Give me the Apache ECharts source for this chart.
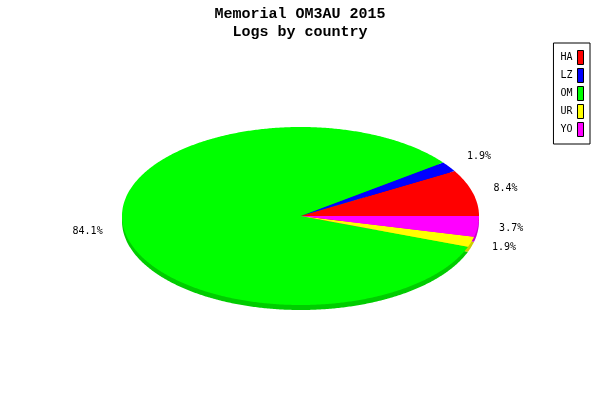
<!DOCTYPE html>
<html>
<head>
<meta charset="utf-8">
<script src="https://cdn.jsdelivr.net/npm/echarts@6/dist/echarts.min.js"></script>
<style>html,body{margin:0;padding:0;background:#fff}#c{width:600px;height:400px}</style>
</head>
<body>
<div id="c"></div>
<script>
const titleLines = ['Memorial OM3AU 2015', 'Logs by country'];
const categories = ['HA', 'LZ', 'OM', 'UR', 'YO'];
const logCounts = [9, 2, 90, 2, 4];
const topColors = ['#ff0000', '#0000ff', '#00ff00', '#ffff00', '#ff00ff'];
const sideColors = ['#cc0000', '#0000cc', '#00cc00', '#cccc00', '#cc00cc'];

const total = logCounts.reduce((a, b) => a + b, 0);
const startFrac = logCounts.map((v, i) => logCounts.slice(0, i).reduce((a, b) => a + b, 0) / total);

const CX = 300.5, CY = 216, RX = 178.5, RY = 89, DEPTH = 5;
const LRX = 200, LRY = 107;

function slicePoints(a0, a1, dy) {
  const pts = [[CX, CY + dy]];
  const n = Math.max(2, Math.ceil((a1 - a0) / 0.5));
  for (let k = 0; k <= n; k++) {
    const a = (a0 + (a1 - a0) * k / n) * Math.PI / 180;
    pts.push([CX + RX * Math.cos(a), CY + dy - RY * Math.sin(a)]);
  }
  return pts;
}

const chart = echarts.init(document.getElementById('c'), null, {renderer: 'canvas'});

const series = categories.map((name, i) => ({
  name: name,
  type: 'custom',
  coordinateSystem: 'none',
  itemStyle: {color: topColors[i]},
  data: [[logCounts[i]]],
  renderItem: function (params, api) {
    const v = api.value(0);
    const a0 = startFrac[i] * 360;
    const a1 = a0 + v / total * 360;
    const mid = (a0 + a1) / 2 * Math.PI / 180;
    const pct = (v / total * 100).toFixed(1) + '%';
    const c = Math.cos(mid);
    return {
      type: 'group',
      children: [
        {type: 'polygon', z2: 1, shape: {points: slicePoints(a0, a1, DEPTH)},
         style: {fill: sideColors[i], stroke: null}},
        {type: 'polygon', z2: 10, shape: {points: slicePoints(a0, a1, 0)},
         style: {fill: topColors[i], stroke: null}},
        {type: 'text', z2: 20,
         x: CX + LRX * c, y: CY - LRY * Math.sin(mid),
         style: {text: pct, align: c >= 0 ? 'left' : 'right', verticalAlign: 'middle',
                 font: '10px "DejaVu Sans Mono"', fill: '#000'}}
      ]
    };
  }
}));

chart.setOption({
  animation: false,
  backgroundColor: '#fff',
  title: {
    text: titleLines.join('\n'),
    left: 'center',
    top: 5,
    padding: 0,
    textStyle: {fontFamily: 'Liberation Mono', fontWeight: 'bold', fontSize: 15,
                lineHeight: 18, color: '#000'}
  },
  legend: {
    orient: 'vertical',
    right: 10,
    top: 43,
    padding: [7, 6, 7, 7],
    borderColor: '#000',
    borderWidth: 1,
    backgroundColor: '#fff',
    align: 'right',
    icon: 'rect',
    itemWidth: 6,
    itemHeight: 14,
    itemGap: 3,
    selectedMode: false,
    itemStyle: {borderColor: '#000', borderWidth: 1},
    textStyle: {fontFamily: 'DejaVu Sans Mono', fontSize: 10, color: '#000', padding: 0},
    data: categories
  },
  series: series
});
</script>
</body>
</html>
